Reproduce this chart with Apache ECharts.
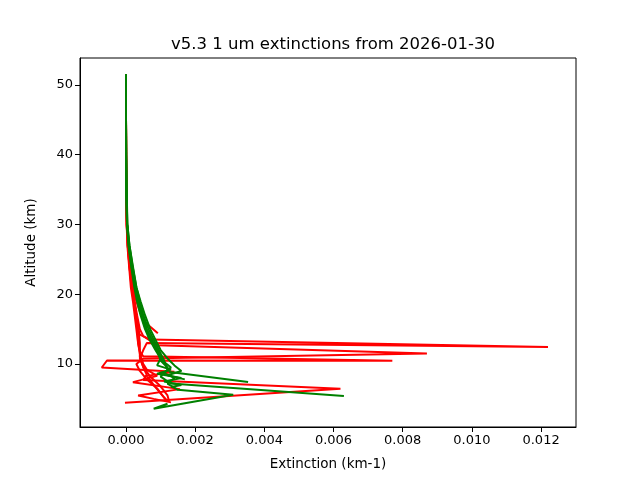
<!DOCTYPE html>
<html>
<head>
<meta charset="utf-8">
<script src="https://cdn.jsdelivr.net/npm/echarts@6/dist/echarts.min.js"></script>
<style>html,body{margin:0;padding:0;background:#fff}#c{width:640px;height:480px}</style>
</head>
<body>
<div id="c"></div>
<script>
// Profiles: [extinction (km-1), altitude (km)]
const red1 = [[0,51.5],[0,45],[0.000005,40],[0.00001,35],[0.00002,30],[0.00005,27],[0.0001,24],[0.00016,21],[0.00022,19],[0.0003,17],[0.00035,15],[0.0004,14.2],[0.0007,13.5],[0.0122,12.45],[0.0006,13.0],[0.0005,12.0],[0.0004,10.8],[0.0005,9.6],[0.0007,8.2],[0.001,6.8],[0.0012,5.5],[0.00125,4.6]];
const red2 = [[0,51.5],[0,45],[0.000005,40],[0.00001,35],[0.00003,30],[0.00007,27],[0.00012,24],[0.0002,21],[0.00025,19],[0.00032,17],[0.0004,15],[0.0005,14],[0.0009,12.7],[0.0087,11.5],[0.0005,10.8],[0.0003,10.0],[0.0004,9],[0.0006,7.8],[0.0009,6.5],[0.0011,5.2],[0.0012,4.7]];
const red3 = [[0,51.5],[0,45],[0,40],[0.00001,35],[0.00002,30],[0.00004,27],[0.00009,24],[0.00014,21],[0.0002,19],[0.00025,17],[0.0003,15],[0.00035,13],[0.0004,11.8],[0.0005,11.1],[0.0077,10.45],[-0.00055,10.5],[-0.0007,9.5],[0.0014,8.9],[0.0006,8.3],[0.0008,7.0],[0.001,5.8],[0.0012,4.6]];
const red4 = [[0,51.5],[0,45],[0.000005,40],[0.00001,35],[0.00002,30],[0.00006,27],[0.00011,24],[0.00018,21],[0.00024,19],[0.0003,17],[0.00036,15],[0.0004,13],[0.0004,11],[0.0005,9.5],[0.0006,8.5],[0.0005,7.7],[0.0062,6.45],[-0.00003,4.45]];
const red5 = [[0,51.5],[0,45],[0.000005,40],[0.00001,35],[0.00003,30],[0.00008,27],[0.00014,24],[0.00022,21],[0.0003,19],[0.0004,17.5],[0.00055,16],[0.00092,14.4]];
const red6 = [[0,51.5],[0,45],[0,40],[0.00001,35],[0.00002,30],[0.00005,27],[0.0001,24],[0.00017,21],[0.00023,19],[0.00028,17],[0.00033,15],[0.00035,13],[0.0004,11.5],[0.0005,10],[0.0006,9.2],[0.0009,8.3],[0.0002,7.4],[0.00156,6.4],[0.00035,5.5],[0.0008,5.0],[0.0013,4.5]];
const green1 = [[0,51.5],[0,45],[0.000005,40],[0.00001,35],[0.00003,30],[0.00008,27],[0.00016,24],[0.00026,21],[0.00034,19],[0.00045,17],[0.00058,15],[0.0007,13.5],[0.0009,12],[0.001,10.5],[0.0012,9.5],[0.00127,8.85],[0.00353,7.42]];
const green2 = [[0,51.5],[0,45],[0.000005,40],[0.00001,35],[0.00004,30],[0.0001,27],[0.0002,24],[0.0003,21],[0.0004,19],[0.0005,17],[0.00065,15],[0.0008,13.5],[0.00095,12],[0.0011,10.5],[0.0012,9.2],[0.001,8.2],[0.0013,7.2],[0.0063,5.4]];
const green3 = [[0,51.5],[0,45],[0,40],[0.00001,35],[0.00003,30],[0.00009,27],[0.00018,24],[0.00028,21],[0.00037,19],[0.00048,17],[0.0006,15],[0.00075,13.5],[0.0009,12],[0.00105,10.5],[0.0013,9.5],[0.0011,8.7],[0.0014,8.0],[0.0012,7.2],[0.0015,6.3],[0.0031,5.6],[0.0008,3.6],[0.0012,4.3]];
const green4 = [[0,51.5],[0,45],[0.000005,40],[0.00001,35],[0.00003,30],[0.00007,27],[0.00015,24],[0.00024,21],[0.00032,19],[0.00042,17],[0.00055,15],[0.00068,13.5],[0.00085,12],[0.001,10.8],[0.0009,9.8],[0.0013,9.2],[0.0009,8.6],[0.0016,8.0],[0.0011,7.5],[0.0016,7.0],[0.0013,6.7]];
const green5 = [[0,51.5],[0,45],[0.000005,40],[0.00002,35],[0.00004,30],[0.0001,27],[0.00019,24],[0.0003,21],[0.00042,19],[0.00055,17],[0.0007,15],[0.00085,13.5],[0.001,12],[0.0012,10.8],[0.0014,9.8],[0.0016,9.0],[0.0012,8.4],[0.0017,7.8]];

const redProfiles = [red1, red2, red3, red4, red5, red6];
const greenProfiles = [green1, green2, green3, green4, green5];
const xTicks = [0, 0.002, 0.004, 0.006, 0.008, 0.010, 0.012];
const yTicks = [10, 20, 30, 40, 50];
const titleText = 'v5.3 1 um extinctions from 2026-01-30';
const xName = 'Extinction (km-1)';
const yName = 'Altitude (km)';

const font = 'DejaVu Sans';
const mk = (d, c) => ({type:'line', data:d, showSymbol:false, symbol:'none', animation:false,
  lineStyle:{color:c, width:2}, itemStyle:{color:c}, z:2});
const series = [];
redProfiles.forEach(p => series.push(mk(p, '#ff0000')));
greenProfiles.forEach(p => series.push(mk(p, '#008000')));

const chart = echarts.init(document.getElementById('c'));
chart.setOption({
  animation:false,
  backgroundColor:'#fff',
  title:{text:titleText, left:328, top:31, textAlign:'center',
    textStyle:{fontFamily:font, fontSize:16.5, fontWeight:'normal', color:'#000'}},
  grid:{left:80, right:64, top:58, bottom:53, show:true, borderColor:'#000', borderWidth:1, backgroundColor:'transparent'},
  xAxis:{type:'value', min:-0.00133, max:0.01301,
    name:xName, nameLocation:'middle', nameGap:30,
    nameTextStyle:{fontFamily:font, fontSize:13.5, color:'#000'},
    axisLine:{show:true, onZero:false, lineStyle:{color:'#000', width:1}},
    axisTick:{show:true, inside:false, length:5, customValues:xTicks, lineStyle:{color:'#000'}},
    axisLabel:{customValues:xTicks, fontFamily:font, fontSize:13, color:'#000', margin:7,
      formatter:v=>v.toFixed(3)},
    splitLine:{show:false}},
  yAxis:{type:'value', min:0.97, max:53.87,
    name:yName, nameLocation:'middle', nameGap:42, nameRotate:90,
    nameTextStyle:{fontFamily:font, fontSize:13.5, color:'#000'},
    axisLine:{show:true, onZero:false, lineStyle:{color:'#000', width:1}},
    axisTick:{show:true, inside:false, length:5, customValues:yTicks, lineStyle:{color:'#000'}},
    axisLabel:{customValues:yTicks, fontFamily:font, fontSize:13, color:'#000', margin:7},
    splitLine:{show:false}},
  series:series
});
</script>
</body>
</html>
